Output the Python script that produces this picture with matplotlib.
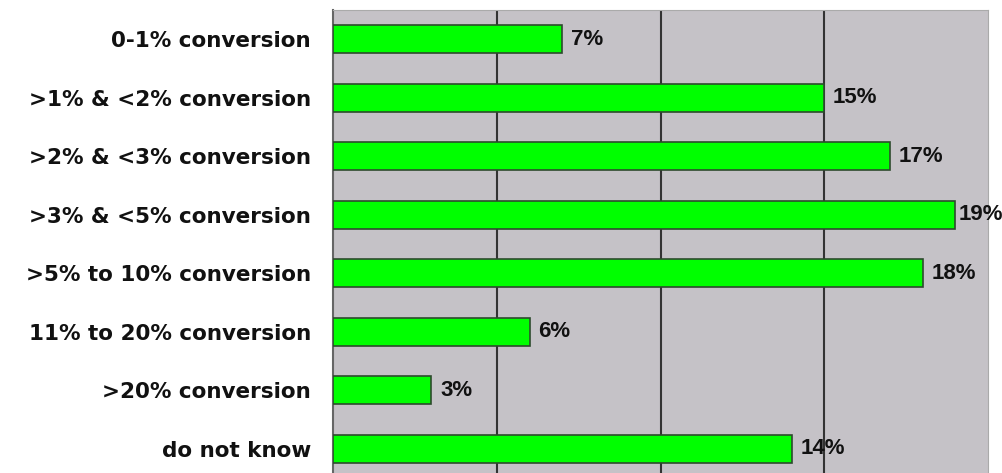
import matplotlib.pyplot as plt

categories = ['0-1% conversion', '>1% & <2% conversion', '>2% & <3% conversion',
              '>3% & <5% conversion', '>5% to 10% conversion', '11% to 20% conversion',
              '>20% conversion', 'do not know']
values = [7, 15, 17, 19, 18, 6, 3, 14]

fig = plt.figure(figsize=(10.03, 4.73), dpi=100)
ax = fig.add_axes([333 / 1003, -5 / 473, 655 / 1003, 468 / 473])
ax.set_facecolor('#c5c2c7')

pos = range(len(categories))
ax.barh(pos, values, height=0.48, color='#00ff00', edgecolor='#2d4a2d', linewidth=1.2, zorder=3)

labels = []
for i, v in enumerate(values):
    t = ax.text(v + 0.27, i, '%d%%' % v, va='center', ha='left', fontsize=16,
                fontweight='bold', family='Liberation Sans', color='#111111', zorder=4)
    labels.append(t)

ax.set_xlim(0, 20)
ax.set_ylim(len(categories) - 0.5, -0.5)
ax.set_xticks([5, 10, 15])
ax.xaxis.grid(True, color='#333333', linewidth=1.5, zorder=1)
ax.tick_params(axis='x', length=0, labelbottom=False)
ax.tick_params(axis='y', length=0, pad=16)
ax.set_yticks(list(pos))
ax.set_yticklabels(categories, fontsize=15.5, fontweight='bold', color='#111111')
for s in ['top', 'right', 'bottom']:
    ax.spines[s].set_color('#aaaaaa')
ax.spines['left'].set_color('#666666')
ax.spines['left'].set_linewidth(1.5)

# pull labels that would run off the figure back inside
fig.canvas.draw()
r = fig.canvas.get_renderer()
fw = fig.bbox.width
for t in labels:
    bb = t.get_window_extent(r)
    if bb.x1 > fw:
        x0, y0 = ax.transData.transform(t.get_position())
        t.set_position(ax.transData.inverted().transform((x0 - (bb.x1 - fw), y0)))

fig.savefig('out.png', dpi=100)
